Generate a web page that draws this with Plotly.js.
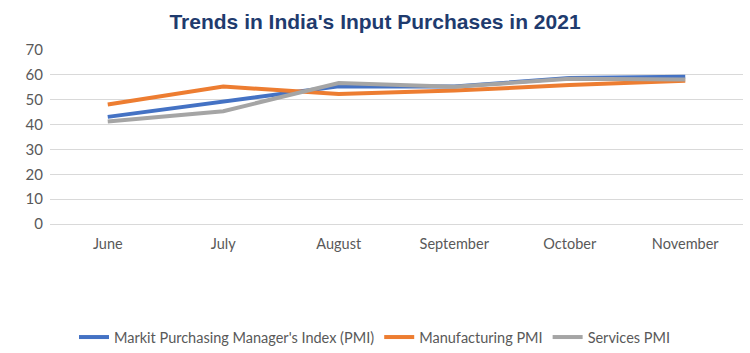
<!DOCTYPE html>
<html><head><meta charset="utf-8">
<script src="https://cdn.plot.ly/plotly-3.0.1.min.js"></script>
<style>html,body{margin:0;padding:0;background:#fff}#chart{width:750px;height:353px}</style>
</head><body><div id="chart"></div>
<script>
const months = ["June", "July", "August", "September", "October", "November"];
const markitPMI = [43.1, 49.2, 55.4, 55.3, 58.7, 59.2];
const manufacturingPMI = [48.1, 55.3, 52.3, 53.7, 55.9, 57.6];
const servicesPMI = [41.2, 45.4, 56.7, 55.2, 58.4, 58.1];
const seriesNames = ["Markit Purchasing Manager's Index (PMI)", "Manufacturing PMI", "Services PMI"];
const colors = ["#4472C4", "#ED7D31", "#A5A5A5"];

const series = [markitPMI, manufacturingPMI, servicesPMI];
const data = series.map((vals, i) => ({
  x: months, y: vals, type: "scatter", mode: "lines", name: seriesNames[i],
  line: {color: colors[i], width: 4}
}));

const layout = {
  width: 750, height: 353,
  margin: {l: 50, r: 7, t: 50, b: 129},
  paper_bgcolor: "#fff", plot_bgcolor: "#fff",
  title: {text: "<b>Trends in India's Input Purchases in 2021</b>", x: 0.5, xanchor: "center", y: 0.94, yanchor: "middle",
    font: {family: "Liberation Sans Narrow, Arial Narrow, Liberation Sans, sans-serif", size: 21, color: "#1F3B6E"}},
  font: {family: "Lato, Open Sans, sans-serif", size: 14, color: "#595959"},
  xaxis: {type: "category", showgrid: false, showline: false, zeroline: false, ticks: "", ticklabelstandoff: 9,
    range: [-0.5, 5.5], tickfont: {size: 14.5, color: "#595959"}, automargin: false},
  yaxis: {range: [0, 70], dtick: 10, showgrid: true, gridcolor: "#D9D9D9", gridwidth: 1, zeroline: true, zerolinecolor: "#D9D9D9",
    showline: false, ticks: "", ticklabelstandoff: 6, tickfont: {size: 15, color: "#595959"}, automargin: false},
  legend: {orientation: "h", x: 0.5, xanchor: "center", xref: "container", yref: "container", y: 0.045, yanchor: "middle",
    font: {size: 14.5, color: "#595959"}, itemwidth: 30, traceorder: "normal"},
  showlegend: true
};
Plotly.newPlot("chart", data, layout, {displayModeBar: false, staticPlot: true});
</script></body></html>
